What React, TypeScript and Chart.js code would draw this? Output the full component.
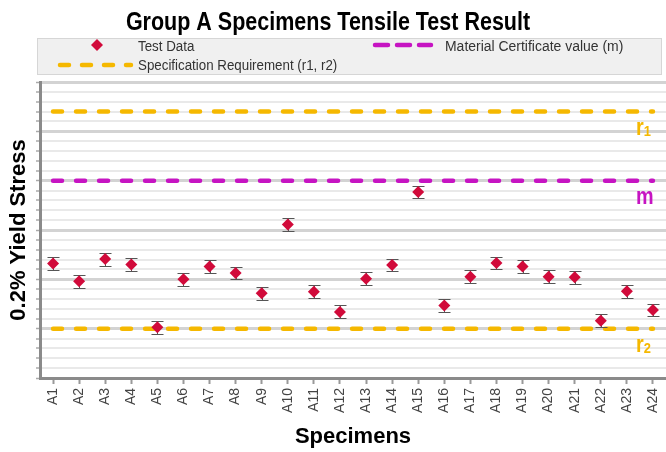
import React, { useEffect, useRef } from 'react';
import { Chart, registerables } from 'chart.js';

Chart.register(...registerables);

const categories = ['A1', 'A2', 'A3', 'A4', 'A5', 'A6', 'A7', 'A8', 'A9', 'A10', 'A11', 'A12', 'A13', 'A14', 'A15', 'A16', 'A17', 'A18', 'A19', 'A20', 'A21', 'A22', 'A23', 'A24'];
const testData = [11.6, 9.8, 12.05, 11.5, 5.15, 10.0, 11.3, 10.65, 8.6, 15.55, 8.75, 6.7, 10.05, 11.45, 18.85, 7.35, 10.25, 11.65, 11.3, 10.25, 10.2, 5.8, 8.8, 6.9];
const errorBar = [0.65, 0.65, 0.65, 0.65, 0.65, 0.65, 0.65, 0.65, 0.65, 0.65, 0.65, 0.65, 0.65, 0.65, 0.65, 0.65, 0.65, 0.65, 0.65, 0.65, 0.65, 0.65, 0.65, 0.65];
const certificateValue = 20; // m
const specUpper = 27; // r1
const specLower = 5; // r2
const yMin = 0;
const yMax = 30;
const yStep = 1;
const majorEvery = 5;

const titleText = 'Group A Specimens Tensile Test Result';
const xTitle = 'Specimens';
const yTitle = '0.2% Yield Stress';
const legendTest = 'Test Data';
const legendCert = 'Material Certificate value (m)';
const legendSpec = 'Specification Requirement (r1, r2)';

const SANS = '"Liberation Sans", Arial, sans-serif';
const RED = '#d10a3a';
const GOLD = '#f5b800';
const MAGENTA = '#c614c2';

function narrowText(ctx: CanvasRenderingContext2D, text: string, x: number, y: number, font: string, sx: number, align: CanvasTextAlign) {
  ctx.save();
  ctx.translate(x, y);
  ctx.scale(sx, 1);
  ctx.font = font;
  ctx.textAlign = align;
  ctx.textBaseline = 'alphabetic';
  ctx.fillText(text, 0, 0);
  ctx.restore();
}

const decorPlugin = {
  id: 'decor',
  beforeDatasetDraw(chart: any, args: any) {
    if (args.index !== 0) return;
    const { ctx } = chart;
    const xs = chart.scales.x;
    const ys = chart.scales.y;
    ctx.save();
    ctx.strokeStyle = '#555';
    ctx.lineWidth = 1;
    testData.forEach((v, i) => {
      const px = Math.round(xs.getPixelForValue(i)) + 0.5;
      const top = Math.round(ys.getPixelForValue(v + errorBar[i])) + 0.5;
      const bot = Math.round(ys.getPixelForValue(v - errorBar[i])) + 0.5;
      ctx.beginPath();
      ctx.moveTo(px, top);
      ctx.lineTo(px, bot);
      ctx.moveTo(px - 6, top);
      ctx.lineTo(px + 6, top);
      ctx.moveTo(px - 6, bot);
      ctx.lineTo(px + 6, bot);
      ctx.stroke();
    });
    ctx.restore();
  },
  afterDraw(chart: any) {
    const { ctx, chartArea } = chart;
    const ys = chart.scales.y;
    ctx.save();
    // title
    ctx.fillStyle = '#000';
    narrowText(ctx, titleText, 328, 30, 'bold 25px ' + SANS, 0.86, 'center');

    // legend box
    ctx.fillStyle = '#f0f0f0';
    ctx.fillRect(37, 38, 625, 37);
    ctx.strokeStyle = '#d6d6d6';
    ctx.lineWidth = 1;
    ctx.strokeRect(37.5, 38.5, 624, 36);

    // legend: test data marker
    ctx.fillStyle = RED;
    ctx.beginPath();
    ctx.moveTo(97, 39);
    ctx.lineTo(103, 45);
    ctx.lineTo(97, 51);
    ctx.lineTo(91, 45);
    ctx.closePath();
    ctx.fill();

    ctx.lineCap = 'round';
    ctx.lineWidth = 4.5;
    // legend: certificate sample
    ctx.strokeStyle = MAGENTA;
    ctx.setLineDash([13, 9]);
    ctx.beginPath();
    ctx.moveTo(375, 45);
    ctx.lineTo(431, 45);
    ctx.stroke();
    // legend: spec sample
    ctx.strokeStyle = GOLD;
    ctx.setLineDash([9, 13]);
    ctx.beginPath();
    ctx.moveTo(60, 65);
    ctx.lineTo(131, 65);
    ctx.stroke();
    ctx.setLineDash([]);

    ctx.fillStyle = '#333';
    const lf = '15.5px ' + SANS;
    narrowText(ctx, legendTest, 138, 51, lf, 0.86, 'left');
    narrowText(ctx, legendCert, 445, 51, lf, 0.9, 'left');
    narrowText(ctx, legendSpec, 138, 70, lf, 0.86, 'left');

    // r / m labels
    const lx = chartArea.right - 30;
    const drawSub = (base: string, sub: string, val: number, color: string) => {
      const py = ys.getPixelForValue(val);
      ctx.fillStyle = color;
      const bf = 'bold 23px ' + SANS;
      narrowText(ctx, base, lx, py + 23, bf, 0.86, 'left');
      ctx.font = bf;
      const w = ctx.measureText(base).width * 0.86;
      if (sub) {
        narrowText(ctx, sub, lx + w, py + 24, 'bold 15px ' + SANS, 0.86, 'left');
      }
    };
    drawSub('r', '1', specUpper, GOLD);
    drawSub('m', '', certificateValue, MAGENTA);
    drawSub('r', '2', specLower, GOLD);
    ctx.restore();
  },
};

export default function App() {
  const ref = useRef<HTMLCanvasElement | null>(null);
  useEffect(() => {
    if (!ref.current) return;
    const lineStyle = {
      borderWidth: 4.5,
      borderDash: [9, 14],
      borderCapStyle: 'round',
      pointRadius: 0,
      order: 1,
    };
    const chart = new Chart(ref.current, {
      type: 'line',
      data: {
        labels: categories,
        datasets: [
          {
            label: legendTest,
            data: testData,
            showLine: false,
            pointStyle: 'rectRot',
            pointRadius: 6,
            pointBackgroundColor: RED,
            pointBorderColor: RED,
            pointBorderWidth: 0,
            order: 0,
          } as any,
          { label: legendCert, data: categories.map(() => certificateValue), borderColor: MAGENTA, ...lineStyle },
          { label: legendSpec, data: categories.map(() => specUpper), borderColor: GOLD, ...lineStyle },
          { label: legendSpec, data: categories.map(() => specLower), borderColor: GOLD, ...lineStyle },
        ],
      },
      options: {
        responsive: false,
        animation: false,
        layout: { autoPadding: false, padding: { top: 82, right: 0, left: 0, bottom: 0 } },
        plugins: { legend: { display: false }, title: { display: false }, tooltip: { enabled: false } },
        scales: {
          x: {
            type: 'category',
            offset: true,
            grid: {
              display: true,
              offset: false,
              drawOnChartArea: false,
              drawTicks: true,
              tickLength: 6,
              tickColor: '#999',
              tickWidth: 2,
            },
            border: { display: true, color: '#8a8a8a', width: 3 },
            ticks: {
              minRotation: 90,
              maxRotation: 90,
              autoSkip: false,
              padding: 4,
              color: '#444',
              font: { family: SANS, size: 14 },
            },
            title: {
              display: true,
              text: xTitle,
              color: '#000',
              font: { family: SANS, size: 22, weight: 'bold' },
              padding: { top: 0, bottom: 2 },
            },
            afterFit: (scale: any) => {
              scale.height = 74;
              scale.paddingLeft = 0;
              scale.paddingRight = 0;
            },
          },
          y: {
            min: yMin,
            max: yMax,
            ticks: { display: false, stepSize: yStep },
            grid: {
              drawTicks: true,
              tickLength: 4,
              tickColor: '#aaa',
              tickWidth: 1.5,
              color: (c: any) => (c.tick && c.tick.value % majorEvery === 0 ? '#d3d3d3' : '#e9e9e9'),
              lineWidth: (c: any) => (c.tick && c.tick.value % majorEvery === 0 ? 3 : 2),
            },
            border: { display: true, color: '#8a8a8a', width: 3 },
            title: {
              display: true,
              text: yTitle,
              color: '#000',
              font: { family: SANS, size: 22, weight: 'bold' },
              padding: { top: 6, bottom: 0 },
            },
            afterFit: (scale: any) => {
              scale.width = 40;
              scale.paddingTop = 0;
              scale.paddingBottom = 0;
            },
          },
        },
      } as any,
      plugins: [decorPlugin],
    });
    return () => chart.destroy();
  }, []);
  return (
    <div style={{ position: 'fixed', left: 0, top: 0, width: 666, height: 452, background: '#fff' }}>
      <canvas ref={ref} width={666} height={452} style={{ display: 'block' }} />
    </div>
  );
}
